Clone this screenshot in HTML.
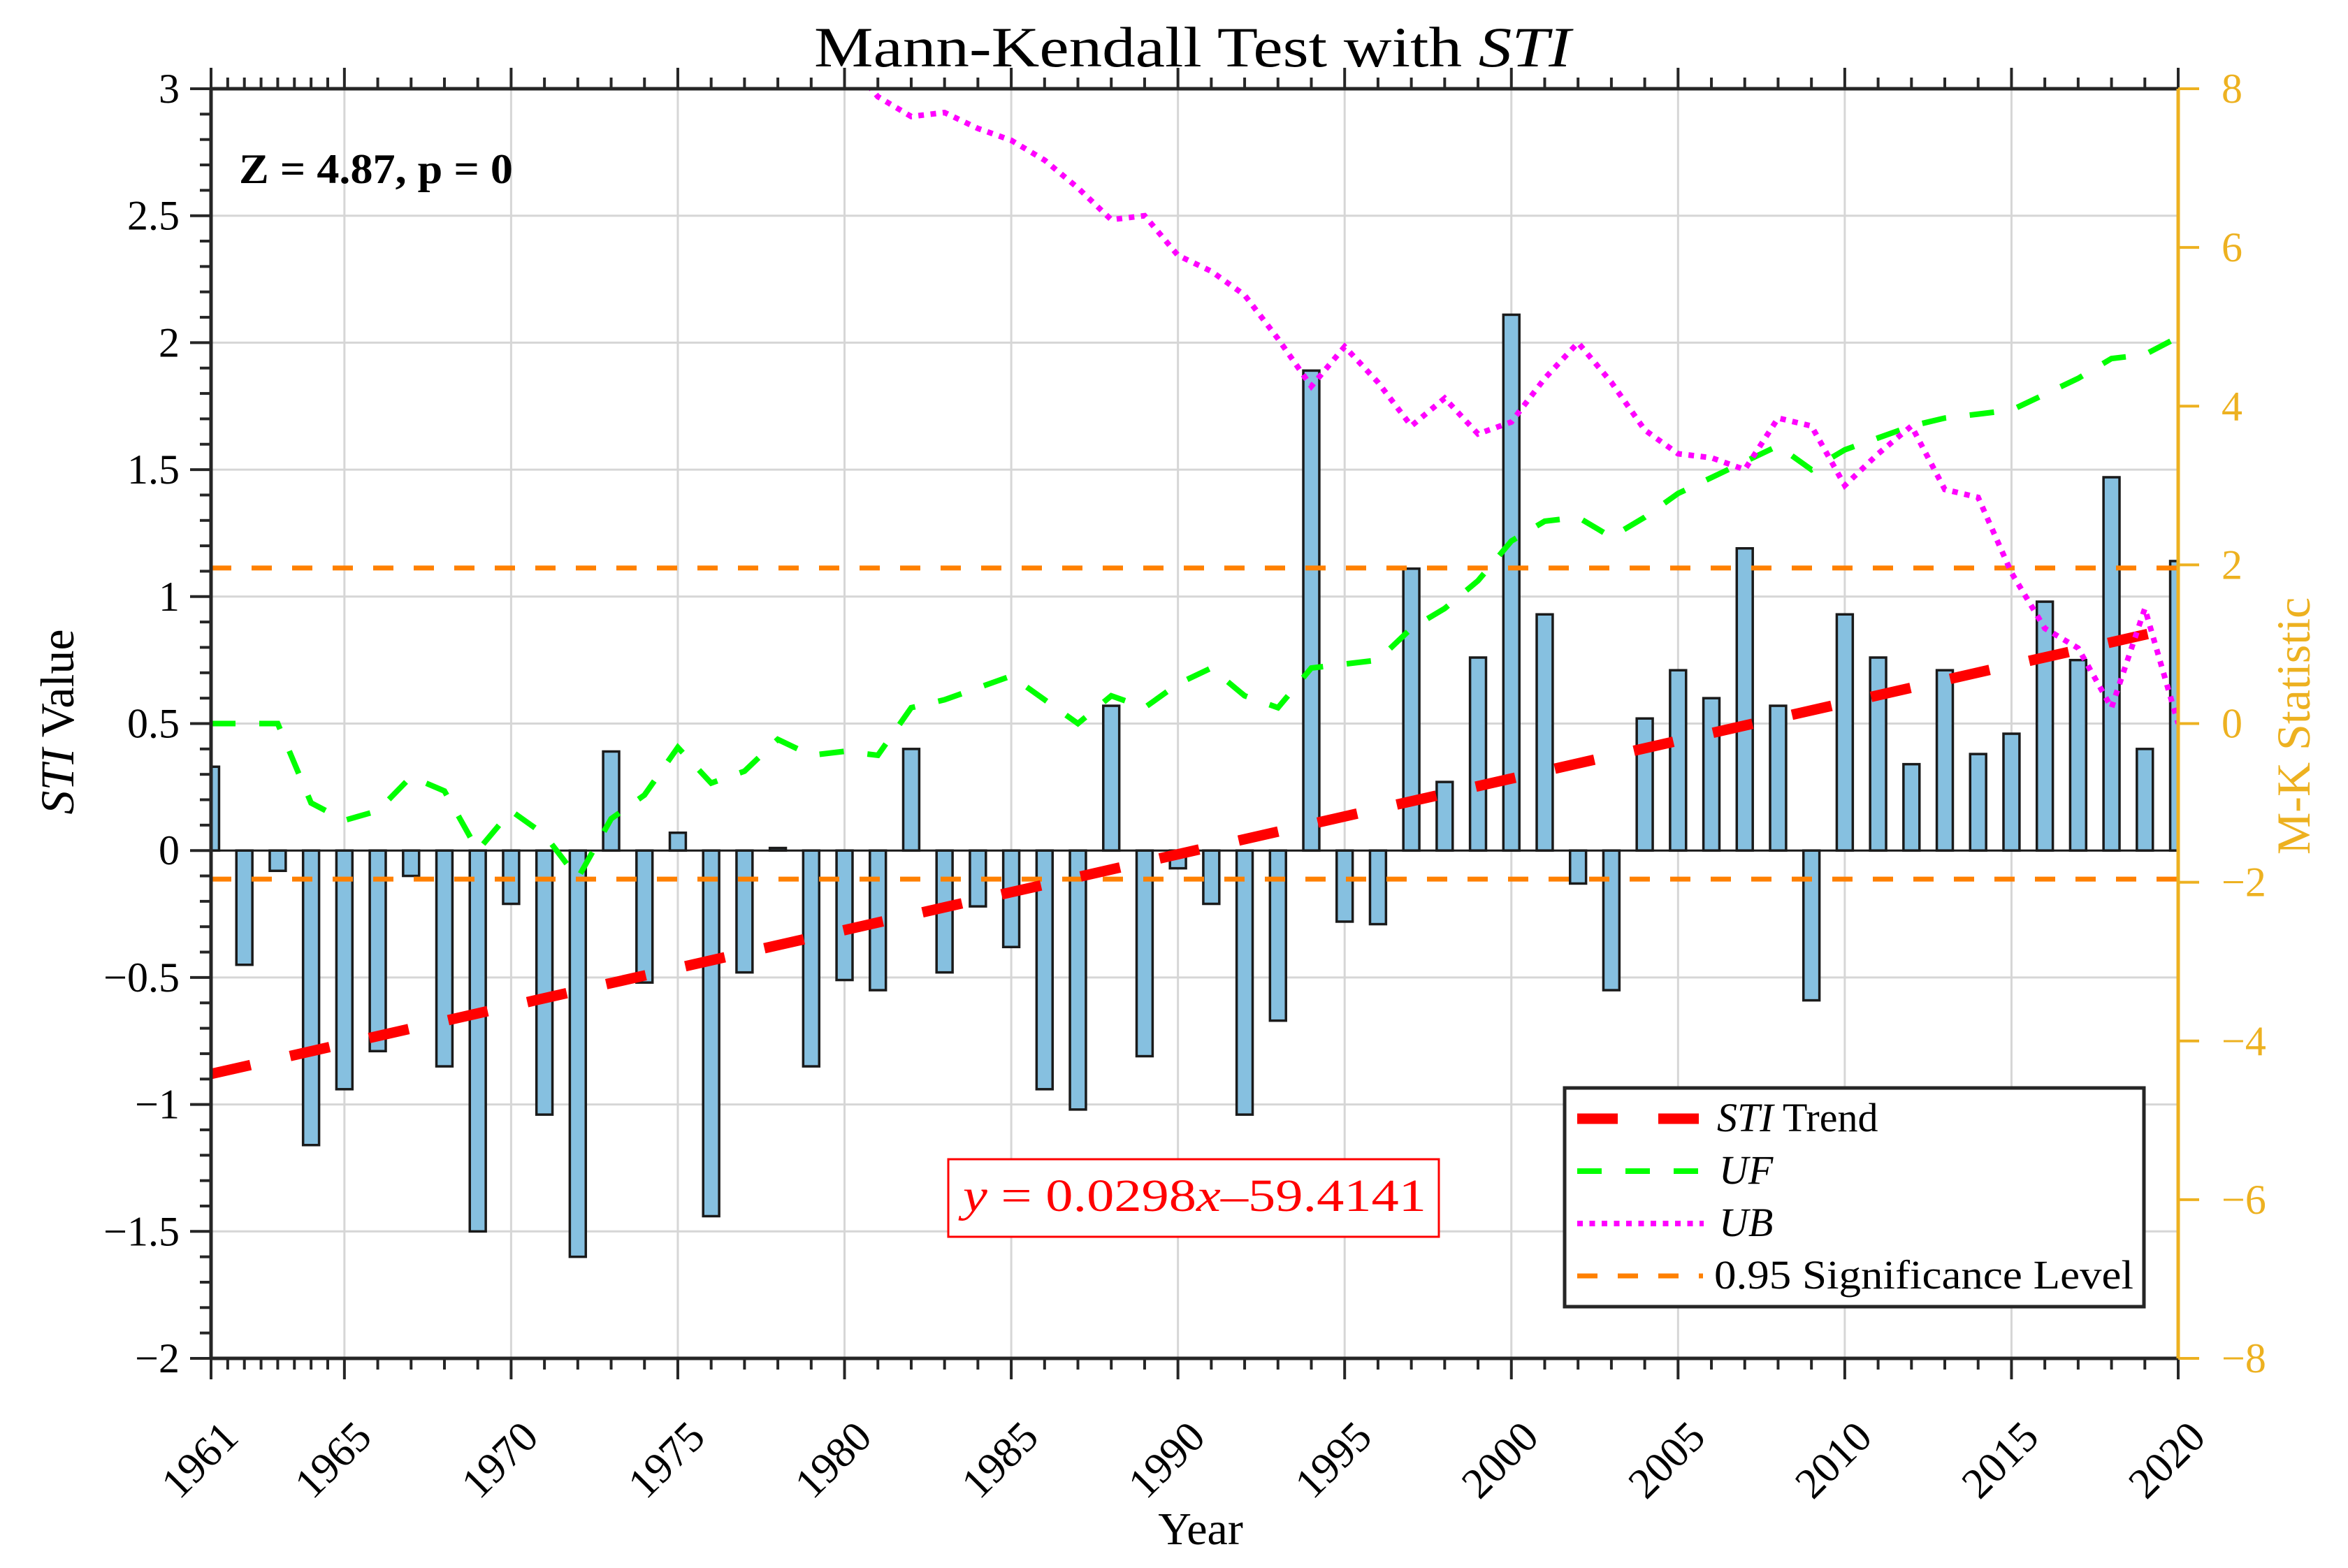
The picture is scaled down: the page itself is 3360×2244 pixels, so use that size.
<!DOCTYPE html>
<html><head><meta charset="utf-8">
<style>
html,body{margin:0;padding:0;background:#fff;}
svg{display:block;font-family:"Liberation Serif",serif;}
</style></head>
<body>
<svg id="chart" width="3360" height="2244" viewBox="0 0 3360 2244" xmlns="http://www.w3.org/2000/svg">
<defs><clipPath id="plotclip"><rect x="302" y="127" width="2815" height="1817"/></clipPath></defs>
<rect width="3360" height="2244" fill="#fff"/>
<g id="grid"></g>
<g id="bars" clip-path="url(#plotclip)"></g>
<g id="lines" clip-path="url(#plotclip)"></g>
<g id="axes"></g>
<text x="1165" y="95" font-size="82" textLength="1083" lengthAdjust="spacingAndGlyphs">Mann-Kendall Test with <tspan font-style="italic">STI</tspan></text>
<text x="342" y="262" font-size="60" font-weight="bold" font-family="Liberation Serif, serif" textLength="392" lengthAdjust="spacingAndGlyphs">Z = 4.87, p = 0</text>
<text transform="translate(105,1033) rotate(-90)" text-anchor="middle" font-size="68"><tspan font-style="italic">STI</tspan> Value</text>
<text transform="translate(3305,1039) rotate(-90)" text-anchor="middle" font-size="68" fill="#EDB120">M-K Statistic</text>
<text x="1718" y="2210" text-anchor="middle" font-size="66">Year</text>
<g>
<rect x="1357" y="1659" width="702" height="111" fill="#fff" stroke="#ff0000" stroke-width="3"/>
<text x="1378" y="1733" font-size="66" fill="#ff0000" textLength="663" lengthAdjust="spacingAndGlyphs"><tspan font-style="italic">y</tspan> = 0.0298<tspan font-style="italic">x</tspan>–59.4141</text>
</g>
<g>
<rect x="2239" y="1557" width="829" height="313" fill="#fff" stroke="#262626" stroke-width="5"/>
<g><line x1="2257" y1="1601" x2="2432" y2="1601" stroke="#ff0000" stroke-width="15" stroke-dasharray="58,58"/><text x="2457" y="1619" font-size="58"><tspan font-style="italic">STI</tspan> Trend</text></g>
<g><line x1="2257" y1="1676" x2="2432" y2="1676" stroke="#00ff00" stroke-width="8" stroke-dasharray="35,34"/><text x="2460" y="1694" font-size="58" font-style="italic">UF</text></g>
<g><line x1="2257" y1="1751" x2="2438" y2="1751" stroke="#ff00ff" stroke-width="8" stroke-dasharray="8,9.5"/><text x="2460" y="1769" font-size="58" font-style="italic">UB</text></g>
<g><line x1="2257" y1="1826" x2="2437" y2="1826" stroke="#ff8000" stroke-width="7" stroke-dasharray="29,29"/><text x="2453" y="1844" font-size="58" textLength="600" lengthAdjust="spacingAndGlyphs">0.95 Significance Level</text></g>
</g>
</svg>
<script>
const years = [1961,1962,1963,1964,1965,1966,1967,1968,1969,1970,1971,1972,1973,1974,1975,1976,1977,1978,1979,1980,1981,1982,1983,1984,1985,1986,1987,1988,1989,1990,1991,1992,1993,1994,1995,1996,1997,1998,1999,2000,2001,2002,2003,2004,2005,2006,2007,2008,2009,2010,2011,2012,2013,2014,2015,2016,2017,2018,2019,2020];
const stiValues = [0.33,-0.45,-0.08,-1.16,-0.94,-0.79,-0.10,-0.85,-1.50,-0.21,-1.04,-1.60,0.39,-0.52,0.07,-1.44,-0.48,0.01,-0.85,-0.51,-0.55,0.40,-0.48,-0.22,-0.38,-0.94,-1.02,0.57,-0.81,-0.07,-0.21,-1.04,-0.67,1.89,-0.28,-0.29,1.11,0.27,0.76,2.11,0.93,-0.13,-0.55,0.52,0.71,0.60,1.19,0.57,-0.59,0.93,0.76,0.34,0.71,0.38,0.46,0.98,0.75,1.47,0.40,1.14];
const ufValues = [0,0,0,-1.0,-1.22,-1.1,-0.67,-0.85,-1.6,-1.1,-1.4,-1.95,-1.2,-0.9,-0.3,-0.75,-0.6,-0.2,-0.4,-0.35,-0.4,0.2,0.3,0.45,0.6,0.3,0.0,0.35,0.2,0.5,0.7,0.35,0.2,0.7,0.75,0.8,1.2,1.45,1.8,2.3,2.55,2.6,2.35,2.6,2.9,3.1,3.3,3.5,3.2,3.45,3.6,3.75,3.85,3.9,3.95,4.15,4.35,4.6,4.65,4.87];
const ubYears = [1980,1981,1982,1983,1984,1985,1986,1987,1988,1989,1990,1991,1992,1993,1994,1995,1996,1997,1998,1999,2000,2001,2002,2003,2004,2005,2006,2007,2008,2009,2010,2011,2012,2013,2014,2015,2016,2017,2018,2019,2020];
const ubValues = [8.4,7.9,7.65,7.7,7.5,7.35,7.1,6.75,6.35,6.4,5.9,5.7,5.4,4.85,4.25,4.75,4.3,3.75,4.1,3.65,3.8,4.35,4.8,4.3,3.7,3.4,3.35,3.2,3.85,3.75,3.0,3.4,3.75,2.95,2.85,1.9,1.2,0.95,0.2,1.45,0.0];
const trendYears = [1961,2020];
const trendValues = [-0.88,0.88];
const sigLevels = [1.96,-1.96];
const leftTicks = [3,2.5,2,1.5,1,0.5,0,-0.5,-1,-1.5,-2];
const rightTicks = [8,6,4,2,0,-2,-4,-6,-8];
const xTickLabels = [1961,1965,1970,1975,1980,1985,1990,1995,2000,2005,2010,2015,2020];

const NS='http://www.w3.org/2000/svg';
const X0=302,X1=3117,Y0=127,Y1=1944;
function xs(v){return X0+(v-1961)/(2020-1961)*(X1-X0);}
function yl(v){return Y1-(v+2)/5*(Y1-Y0);}
function yr(v){return Y1-(v+8)/16*(Y1-Y0);}
function mk(tag,attrs,parent){const e=document.createElementNS(NS,tag);for(const k in attrs)e.setAttribute(k,attrs[k]);parent.appendChild(e);return e;}
const grid=document.getElementById('grid'),bars=document.getElementById('bars'),lines=document.getElementById('lines'),axes=document.getElementById('axes');
function fmt(v){return (v<0?'\u2212':'')+Math.abs(v);}

xTickLabels.forEach(y=>{if(y===1961||y===2020)return;const l=mk('line',{x1:xs(y),x2:xs(y),y1:Y0,y2:Y1,stroke:'#d6d6d6','stroke-width':3},grid);

});
leftTicks.forEach(v=>{if(v===3||v===-2)return;const l=mk('line',{x1:X0,x2:X1,y1:yl(v),y2:yl(v),stroke:'#d6d6d6','stroke-width':3},grid);

});

const bw=0.48*(X1-X0)/59;
years.forEach((yr_,i)=>{const v=stiValues[i];const y=Math.min(yl(v),yl(0));const h=Math.abs(yl(v)-yl(0));
const r=mk('rect',{x:xs(yr_)-bw/2,y:y,width:bw,height:h,fill:'#86C0E0',stroke:'#1a1a1a','stroke-width':3.5},bars);

});
const zl=mk('line',{x1:X0,x2:X1,y1:yl(0),y2:yl(0),stroke:'#1a1a1a','stroke-width':3},bars);



sigLevels.forEach(s=>{const l=mk('line',{x1:X0,x2:X1,y1:yr(s),y2:yr(s),stroke:'#ff8000','stroke-width':7,'stroke-dasharray':'29,29'},lines);

});
const tr=mk('line',{x1:xs(trendYears[0]),y1:yl(trendValues[0]),x2:xs(trendYears[1]),y2:yl(trendValues[1]),stroke:'#ff0000','stroke-width':15,'stroke-dasharray':'58,58'},lines);


const uf=mk('polyline',{points:years.map((y,i)=>xs(y)+','+yr(ufValues[i])).join(' '),fill:'none',stroke:'#00ff00','stroke-width':8,'stroke-dasharray':'35,34'},lines);


const ub=mk('polyline',{points:ubYears.map((y,i)=>xs(y)+','+yr(ubValues[i])).join(' '),fill:'none',stroke:'#ff00ff','stroke-width':8,'stroke-dasharray':'8,9.5'},lines);



const bc='#262626';
mk('line',{x1:X0,x2:X1,y1:Y0,y2:Y0,stroke:bc,'stroke-width':5},axes);
mk('line',{x1:X0,x2:X1,y1:Y1,y2:Y1,stroke:bc,'stroke-width':5},axes);
mk('line',{x1:X0,x2:X0,y1:Y0,y2:Y1,stroke:bc,'stroke-width':5},axes);
mk('line',{x1:X1,x2:X1,y1:Y0,y2:Y1,stroke:'#EDB120','stroke-width':5},axes);
const minorYears=[];for(let y=1961.5;y<1965;y+=0.5)minorYears.push(y);for(let y=1966;y<2020;y++)if(y%5)minorYears.push(y);
minorYears.forEach(y=>{mk('line',{x1:xs(y),x2:xs(y),y1:Y1,y2:Y1+16,stroke:bc,'stroke-width':4},axes);mk('line',{x1:xs(y),x2:xs(y),y1:Y0,y2:Y0-16,stroke:bc,'stroke-width':4},axes);});
xTickLabels.forEach(y=>{const x=xs(y);mk('line',{x1:x,x2:x,y1:Y1,y2:Y1+30,stroke:bc,'stroke-width':4},axes);mk('line',{x1:x,x2:x,y1:Y0,y2:Y0-30,stroke:bc,'stroke-width':4},axes);
const t=mk('text',{transform:'translate('+(x+42)+',2060) rotate(-45)','text-anchor':'end','font-size':62},axes);t.textContent=y;

});
for(let k=-20;k<=30;k++){const v=k/10;const major=(k%5===0);mk('line',{x1:X0-(major?30:16),x2:X0,y1:yl(v),y2:yl(v),stroke:bc,'stroke-width':4},axes);}
leftTicks.forEach(v=>{const t=mk('text',{x:X0-45,y:yl(v)+20,'text-anchor':'end','font-size':60},axes);t.textContent=fmt(v);

});
rightTicks.forEach(v=>{mk('line',{x1:X1,x2:X1+30,y1:yr(v),y2:yr(v),stroke:'#EDB120','stroke-width':4},axes);
const t=mk('text',{x:X1+62,y:yr(v)+20,'font-size':60,fill:'#EDB120'},axes);t.textContent=fmt(v);

});
</script>
</body></html>
